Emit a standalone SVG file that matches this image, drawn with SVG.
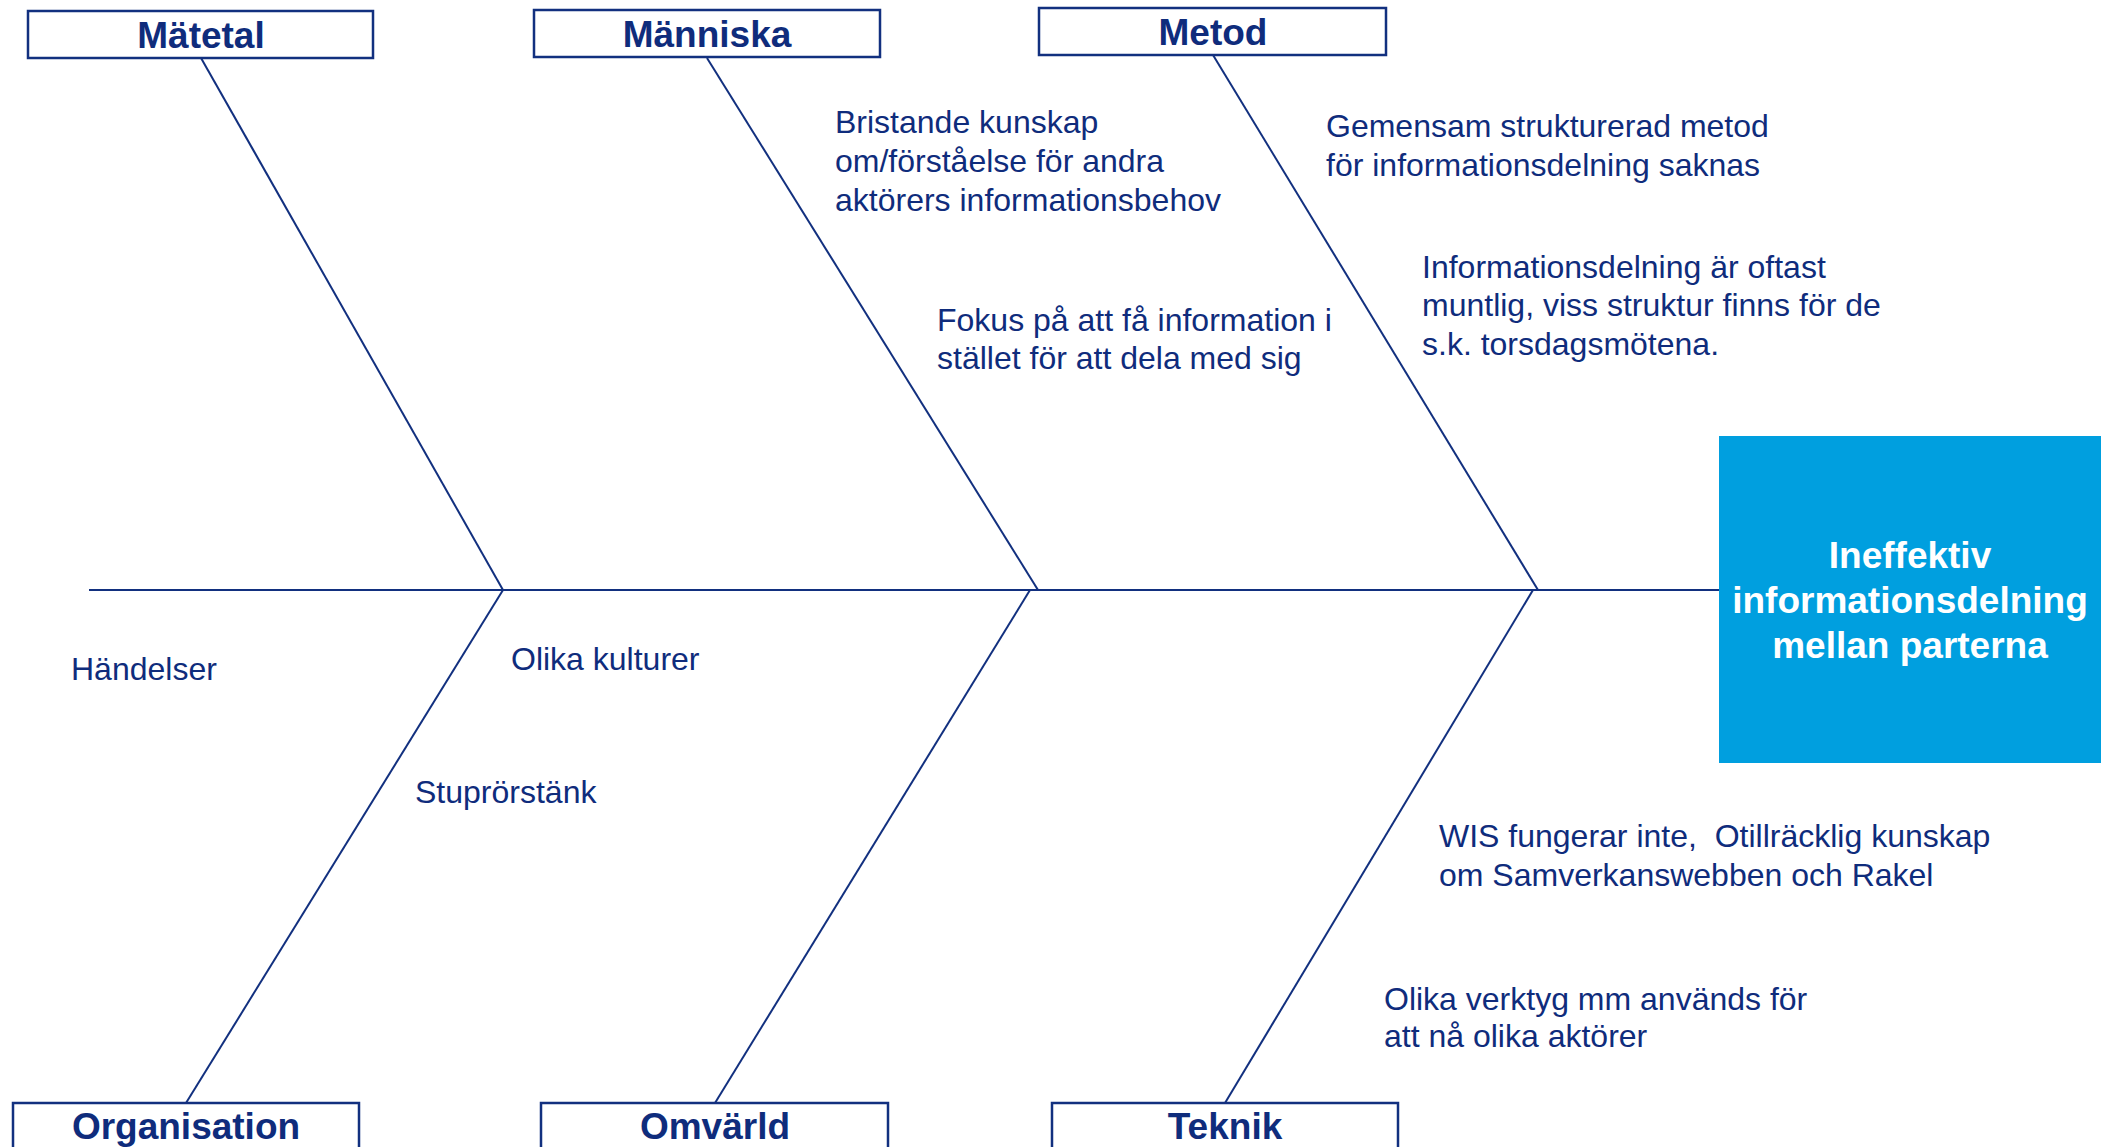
<svg xmlns="http://www.w3.org/2000/svg" width="2105" height="1147" viewBox="0 0 2105 1147">
<style>
.box{fill:#ffffff;stroke:#12307f;stroke-width:2.5}
.title{font-family:"Liberation Sans",Arial,sans-serif;font-weight:bold;font-size:37px;fill:#0f2c7c;text-anchor:middle}
.lbl{font-family:"Liberation Sans",Arial,sans-serif;font-size:32px;fill:#0f2c7c}
.bone{stroke:#12307f;stroke-width:2;fill:none}
.effect{fill:#009fdf}
.etext{font-family:"Liberation Sans",Arial,sans-serif;font-weight:bold;font-size:37px;fill:#ffffff;text-anchor:middle}
</style>
<rect width="2105" height="1147" fill="#ffffff"/>
<g id="connectors">
<line class="bone" x1="89" y1="590" x2="1719" y2="590"/>
<line class="bone" x1="201" y1="58" x2="503" y2="590"/>
<line class="bone" x1="707" y1="58" x2="1038" y2="590"/>
<line class="bone" x1="1213" y1="55" x2="1538" y2="590"/>
<line class="bone" x1="503" y1="590" x2="186" y2="1103"/>
<line class="bone" x1="1030" y1="590" x2="715" y2="1103"/>
<line class="bone" x1="1533" y1="590" x2="1225" y2="1103"/>
</g>
<g id="node-effect">
<rect class="effect" x="1719" y="436" width="382" height="327"/>
<text class="etext" x="1910" y="568">Ineffektiv</text>
<text class="etext" x="1910" y="613">informationsdelning</text>
<text class="etext" x="1910" y="658">mellan parterna</text>
</g>
<g id="node-matetal">
<rect class="box" x="28" y="11" width="345" height="47"/>
<text class="title" x="201" y="48">Mätetal</text>
</g>
<g id="node-manniska">
<rect class="box" x="534" y="10" width="346" height="47"/>
<text class="title" x="707" y="47">Människa</text>
</g>
<g id="node-metod">
<rect class="box" x="1039" y="8" width="347" height="47"/>
<text class="title" x="1213" y="45">Metod</text>
</g>
<g id="node-organisation">
<rect class="box" x="13" y="1103" width="346" height="60"/>
<text class="title" x="186" y="1139">Organisation</text>
</g>
<g id="node-omvarld">
<rect class="box" x="541" y="1103" width="347" height="60"/>
<text class="title" x="715" y="1139">Omvärld</text>
</g>
<g id="node-teknik">
<rect class="box" x="1052" y="1103" width="346" height="60"/>
<text class="title" x="1225" y="1139">Teknik</text>
</g>
<g id="labels">
<text class="lbl" x="835" y="133">Bristande kunskap</text>
<text class="lbl" x="835" y="172">om/förståelse för andra</text>
<text class="lbl" x="835" y="211">aktörers informationsbehov</text>
<text class="lbl" x="1326" y="137">Gemensam strukturerad metod</text>
<text class="lbl" x="1326" y="176">för informationsdelning saknas</text>
<text class="lbl" x="1422" y="278">Informationsdelning är oftast</text>
<text class="lbl" x="1422" y="316">muntlig, viss struktur finns för de</text>
<text class="lbl" x="1422" y="355">s.k. torsdagsmötena.</text>
<text class="lbl" x="937" y="331">Fokus på att få information i</text>
<text class="lbl" x="937" y="369">stället för att dela med sig</text>
<text class="lbl" x="71" y="680">Händelser</text>
<text class="lbl" x="511" y="670">Olika kulturer</text>
<text class="lbl" x="415" y="803">Stuprörstänk</text>
<text class="lbl" x="1439" y="847" xml:space="preserve">WIS fungerar inte,  Otillräcklig kunskap</text>
<text class="lbl" x="1439" y="886">om Samverkanswebben och Rakel</text>
<text class="lbl" x="1384" y="1010">Olika verktyg mm används för</text>
<text class="lbl" x="1384" y="1047">att nå olika aktörer</text>
</g>
</svg>
